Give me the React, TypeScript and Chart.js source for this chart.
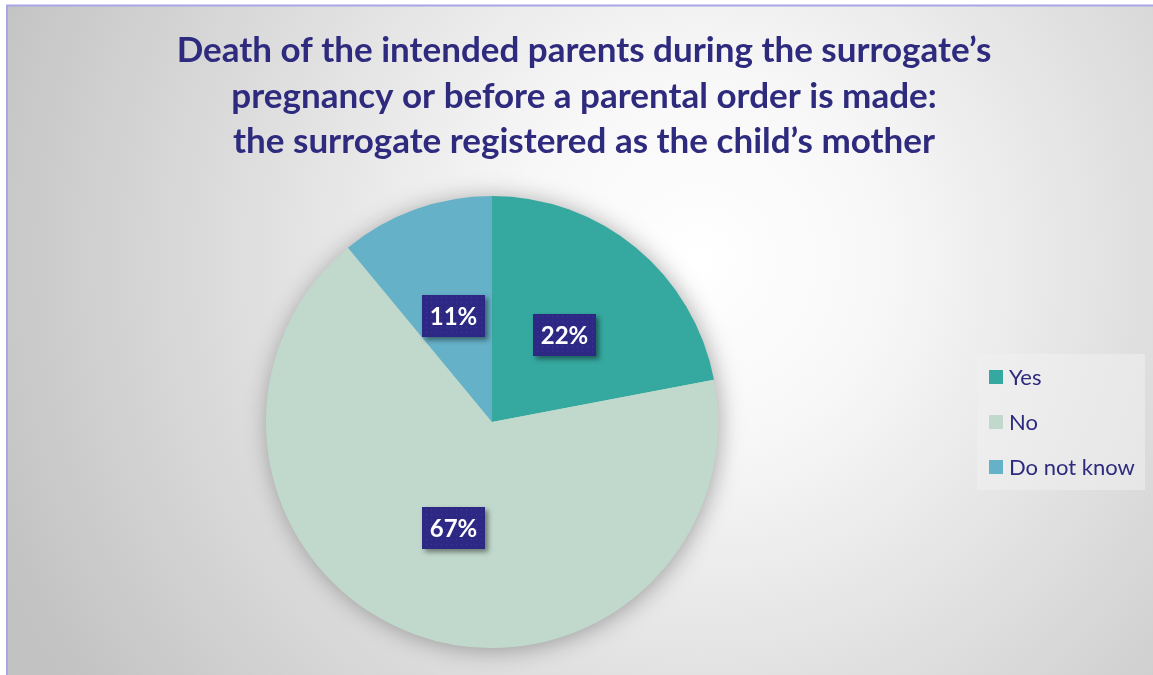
import React, { useEffect, useRef } from "react";
import { Chart, registerables } from "chart.js";

Chart.register(...registerables);

const titleLines = [
  "Death of the intended parents during the surrogate’s",
  "pregnancy or before a parental order is made:",
  "the surrogate registered as the child’s mother",
];
const categories = ["Yes", "No", "Do not know"];
const values = [22, 67, 11];
const colors = ["#35A99F", "#C1D9CC", "#65B1C8"];

const TEXT_COLOR = "#2E2A7E";
const LABEL_BOX = "#2C2883";
const FONT = "Lato, 'Open Sans', sans-serif";

const backgroundPlugin = {
  id: "bg",
  beforeDraw(chart: any) {
    const { ctx, width, height } = chart;
    ctx.save();
    ctx.fillStyle = "#ffffff";
    ctx.fillRect(0, 0, width, height);
    const g = ctx.createRadialGradient(700, 260, 0, 700, 260, 760);
    g.addColorStop(0, "#ffffff");
    g.addColorStop(0.25, "#f7f7f7");
    g.addColorStop(1, "#c2c2c2");
    ctx.fillStyle = g;
    ctx.fillRect(8, 6, width - 8, height - 6);
    ctx.strokeStyle = "#A9A6E6";
    ctx.lineWidth = 2;
    ctx.beginPath();
    ctx.moveTo(7, height + 5);
    ctx.lineTo(7, 5.5);
    ctx.lineTo(width + 5, 5.5);
    ctx.stroke();
    ctx.restore();
  },
};

const titlePlugin = {
  id: "customTitle",
  afterDraw(chart: any) {
    const { ctx } = chart;
    ctx.save();
    ctx.fillStyle = TEXT_COLOR;
    ctx.font = `bold 35px ${FONT}`;
    ctx.textAlign = "center";
    ctx.textBaseline = "alphabetic";
    const baselines = [62, 108, 153];
    titleLines.forEach((t, i) => ctx.fillText(t, 584, baselines[i]));
    ctx.restore();
  },
};

const pieShadowPlugin = {
  id: "pieShadow",
  beforeDatasetsDraw(chart: any) {
    const arc = chart.getDatasetMeta(0).data[0];
    if (!arc) return;
    const { ctx } = chart;
    ctx.save();
    ctx.shadowColor = "rgba(0,0,0,0.35)";
    ctx.shadowBlur = 24;
    ctx.shadowOffsetX = 2;
    ctx.shadowOffsetY = 2;
    ctx.fillStyle = colors[1];
    ctx.beginPath();
    ctx.arc(arc.x, arc.y, arc.outerRadius - 1, 0, Math.PI * 2);
    ctx.fill();
    ctx.restore();
  },
};

const labelPlugin = {
  id: "boxLabels",
  afterDatasetsDraw(chart: any) {
    const { ctx } = chart;
    const meta = chart.getDatasetMeta(0);
    const data = chart.data.datasets[0].data as number[];
    meta.data.forEach((arc: any, i: number) => {
      const p = arc.getCenterPoint();
      const w = 63;
      const h = 42;
      const x = Math.round(p.x - w / 2);
      const y = Math.round(p.y - h / 2);
      ctx.save();
      ctx.shadowColor = "rgba(0,0,0,0.45)";
      ctx.shadowBlur = 5;
      ctx.shadowOffsetX = 3;
      ctx.shadowOffsetY = 3;
      ctx.fillStyle = LABEL_BOX;
      ctx.fillRect(x, y, w, h);
      ctx.restore();
      ctx.save();
      ctx.fillStyle = "rgba(80,76,180,0.45)";
      for (let dy = 2; dy < h; dy += 5) {
        for (let dx = 2 + ((dy / 5) % 2 ? 2 : 0); dx < w; dx += 5) {
          ctx.fillRect(x + dx, y + dy, 1.2, 1.2);
        }
      }
      ctx.fillStyle = "#ffffff";
      ctx.font = `bold 24px ${FONT}`;
      ctx.textAlign = "center";
      ctx.textBaseline = "middle";
      ctx.fillText(`${data[i]}%`, x + w / 2, y + h / 2 + 1);
      ctx.restore();
    });
  },
};

const legendPlugin = {
  id: "customLegend",
  afterDraw(chart: any) {
    const { ctx } = chart;
    const labels = chart.data.labels as string[];
    const bg = chart.data.datasets[0].backgroundColor as string[];
    ctx.save();
    ctx.fillStyle = "rgba(240,240,240,0.55)";
    ctx.fillRect(977, 354, 168, 136);
    ctx.font = `22px ${FONT}`;
    ctx.textBaseline = "middle";
    ctx.textAlign = "left";
    labels.forEach((l, i) => {
      const cy = 377 + i * 45;
      ctx.fillStyle = bg[i];
      ctx.fillRect(989, cy - 7, 14, 14);
      ctx.fillStyle = TEXT_COLOR;
      ctx.fillText(l, 1009, cy + 1);
    });
    ctx.restore();
  },
};

export default function App() {
  const ref = useRef<HTMLCanvasElement | null>(null);
  useEffect(() => {
    if (!ref.current) return;
    const chart = new Chart(ref.current, {
      type: "pie",
      data: {
        labels: categories,
        datasets: [
          {
            data: values,
            backgroundColor: colors,
            borderWidth: 0,
          },
        ],
      },
      options: {
        animation: false,
        responsive: true,
        maintainAspectRatio: false,
        rotation: 0,
        layout: { padding: { left: 266, right: 435, top: 196, bottom: 27 } },
        plugins: {
          legend: { display: false },
          title: { display: false },
          tooltip: { enabled: false },
        },
      },
      plugins: [backgroundPlugin, pieShadowPlugin, labelPlugin, titlePlugin, legendPlugin],
    });
    return () => chart.destroy();
  }, []);
  return (
    <div style={{ position: "fixed", left: 0, top: 0, width: 1153, height: 675 }}>
      <canvas ref={ref} />
    </div>
  );
}
